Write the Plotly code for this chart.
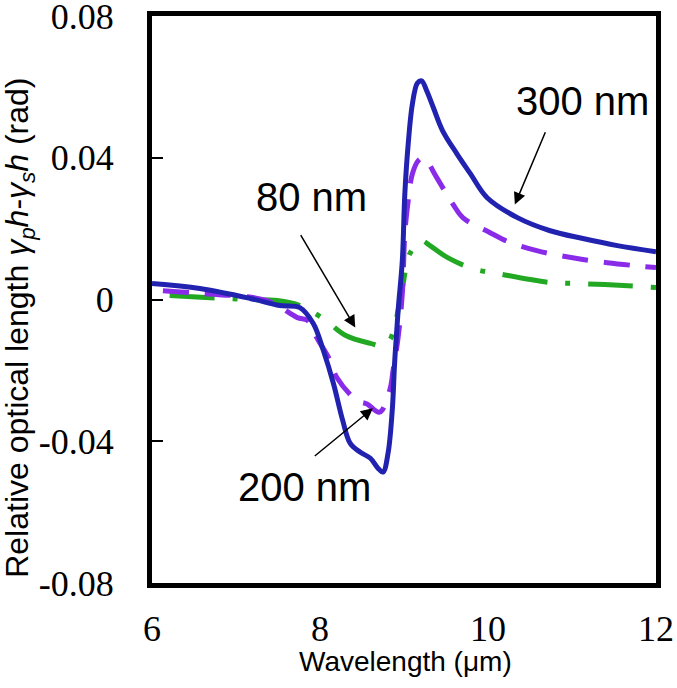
import plotly.graph_objects as go

# 300 nm (blue solid)
x300 = [6.0, 6.57, 7.17, 7.52, 7.76, 7.92, 8.04, 8.16, 8.27, 8.36, 8.48, 8.60, 8.69, 8.75,
        8.81, 8.86, 8.89, 8.93, 8.98, 9.01, 9.05, 9.10, 9.16, 9.21, 9.27, 9.35, 9.46, 9.63,
        9.79, 9.99, 10.35, 10.74, 11.13, 11.54, 12.0]
y300 = [0.0045, 0.0031, 0.0003, -0.0017, -0.0023, -0.0068, -0.0144, -0.0237, -0.0341, -0.0406,
        -0.0431, -0.0448, -0.0476, -0.0487, -0.0434, -0.0313, -0.0172, -0.0031, 0.0110, 0.0299,
        0.0439, 0.0552, 0.0611, 0.0617, 0.0589, 0.0541, 0.0476, 0.0411, 0.0355, 0.0287, 0.0231,
        0.0194, 0.0172, 0.0152, 0.0135]

# 200 nm (purple dashed)
x200 = [6.13, 6.57, 7.37, 7.73, 7.85, 7.96, 8.12, 8.20, 8.44, 8.56, 8.71, 8.83, 8.87, 8.93,
        8.98, 9.01, 9.05, 9.10, 9.17, 9.23, 9.27, 9.39, 9.58, 9.70, 10.02, 10.26, 10.58, 10.86,
        11.13, 11.42, 11.73, 12.0]
y200 = [0.0025, 0.0017, -0.0003, -0.0051, -0.0059, -0.0107, -0.0172, -0.0220, -0.0285, -0.0295,
        -0.0318, -0.0256, -0.0200, -0.0107, 0.0017, 0.0186, 0.0279, 0.0355, 0.0392, 0.0400,
        0.0392, 0.0344, 0.0270, 0.0231, 0.0189, 0.0161, 0.0138, 0.0124, 0.0113, 0.0104, 0.0096,
        0.0090]

# 80 nm (green dash-dot)
x80 = [6.21, 6.85, 7.17, 7.49, 7.76, 8.04, 8.30, 8.60, 8.75, 8.83, 8.89, 8.93, 8.99, 9.05,
       9.13, 9.21, 9.31, 9.52, 9.82, 10.12, 10.74, 11.07, 11.39, 12.0]
y80 = [0.0011, 0.0003, 0.0, -0.0003, -0.0017, -0.0054, -0.0101, -0.0124, -0.0130, -0.0115,
       -0.0073, -0.0030, 0.0045, 0.0118, 0.0152, 0.0166, 0.0152, 0.0118, 0.0087, 0.0073, 0.0048,
       0.0045, 0.0042, 0.0034]

x_ticks = [6, 8, 10, 12]
y_ticks = [-0.08, -0.04, 0, 0.04, 0.08]
y_tick_text = ["-0.08", "-0.04", "0", "0.04", "0.08"]

fig = go.Figure()
fig.add_trace(go.Scatter(x=x80, y=y80, mode="lines",
                         line=dict(color="#22A822", width=5, dash="45px,18px,5px,18px", shape="spline"),
                         showlegend=False))
fig.add_trace(go.Scatter(x=x200, y=y200, mode="lines",
                         line=dict(color="#8A2BEA", width=5, dash="26px,16px", shape="spline"),
                         showlegend=False))
fig.add_trace(go.Scatter(x=x300, y=y300, mode="lines",
                         line=dict(color="#2222B0", width=5, shape="spline"),
                         showlegend=False))

sans = "Liberation Sans, Arial, sans-serif"
serif = "Liberation Serif, Times New Roman, serif"
ann_font = dict(family=sans, size=40, color="black")
# arrows
arrows = [
    (10.32, 0.0268, 10.69, 0.0476),
    (8.42, -0.0079, 7.76, 0.0186),
    (8.63, -0.0307, 7.92, -0.0445),
]
for hx, hy, tx, ty in arrows:
    fig.add_annotation(x=hx, y=hy, ax=tx, ay=ty, xref="x", yref="y", axref="x", ayref="y",
                       text="", showarrow=True, arrowhead=2, arrowsize=1.6, arrowwidth=1.5,
                       arrowcolor="black")
labels = [("300 nm", 11.12, 0.0561), ("80 nm", 7.90, 0.0290), ("200 nm", 7.82, -0.0530)]
for t, lx, ly in labels:
    fig.add_annotation(x=lx, y=ly, xref="x", yref="y", text=t, showarrow=False, font=ann_font,
                       xanchor="center", yanchor="middle")

# axis titles
fig.add_annotation(x=0.502, y=-0.139, xref="paper", yref="paper", text="Wavelength (μm)",
                   xanchor="center", yanchor="middle",
                   showarrow=False, font=dict(family=sans, size=28, color="black"))
fig.add_annotation(x=-0.262, y=0.45, xref="paper", yref="paper", textangle=-90,
                   xanchor="center", yanchor="middle",
                   text="Relative optical length <i>γ<sub>p</sub>h</i>-<i>γ<sub>s</sub>h</i> (rad)",
                   showarrow=False, font=dict(family=sans, size=32, color="black"))

fig.update_layout(
    width=677, height=688,
    margin=dict(l=152, r=21, t=16, b=105, autoexpand=False),
    paper_bgcolor="white", plot_bgcolor="white",
    xaxis=dict(range=[6, 12], tickvals=x_ticks, ticktext=[str(v) for v in x_ticks],
               showgrid=False, zeroline=False, showline=True, mirror=True,
               linecolor="black", linewidth=5, ticks="", automargin=False,
               ticklabelstandoff=10, ticklabeloverflow="allow",
               tickfont=dict(family=serif, size=36, color="black")),
    yaxis=dict(range=[-0.08, 0.08], tickvals=y_ticks, ticktext=y_tick_text,
               showgrid=False, zeroline=False, showline=True, mirror=True,
               linecolor="black", linewidth=5, ticks="inside", ticklen=11, tickwidth=1.5,
               tickcolor="black", automargin=False, ticklabelstandoff=26,
               ticklabeloverflow="allow",
               tickfont=dict(family=serif, size=36, color="black")),
)

fig.write_html("out.html", config={"displayModeBar": False},
               post_script="document.body.style.margin='0';window.dispatchEvent(new Event('resize'));")
